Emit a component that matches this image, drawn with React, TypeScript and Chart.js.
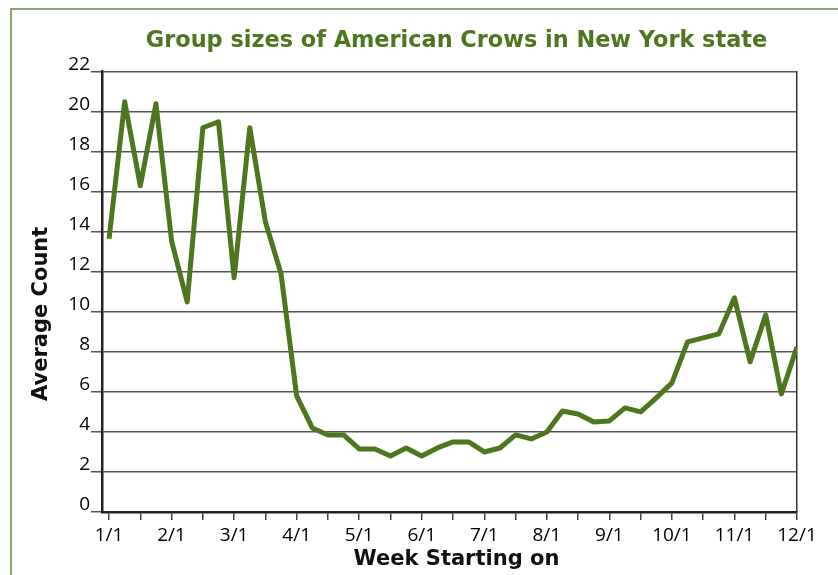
import React, { useEffect, useRef } from "react";
import { Chart, registerables } from "chart.js";

Chart.register(...registerables);

const TITLE = "Group sizes of American Crows in New York state";
const X_TITLE = "Week Starting on";
const Y_TITLE = "Average Count";

// month labels placed every 4 weekly steps
const monthLabels = ["1/1", "2/1", "3/1", "4/1", "5/1", "6/1", "7/1", "8/1", "9/1", "10/1", "11/1", "12/1"];

// average group size per week (45 weekly points, 1/1 .. 12/1)
const avgCount = [
  13.65, 20.5, 16.3, 20.4, 13.55, 10.5, 19.2, 19.5, 11.7, 19.2,
  14.5, 11.9, 5.8, 4.2, 3.85, 3.85, 3.15, 3.15, 2.8, 3.2,
  2.8, 3.2, 3.5, 3.5, 3.0, 3.2, 3.85, 3.65, 4.0, 5.05,
  4.9, 4.5, 4.55, 5.2, 5.0, 5.7, 6.45, 8.5, 8.7, 8.9,
  10.7, 7.5, 9.85, 5.9, 8.25,
];

const yTicks = [0, 2, 4, 6, 8, 10, 12, 14, 16, 18, 20, 22];

const GREEN = "#4d761e";
const FONT = "'Open Sans', 'DejaVu Sans', sans-serif";
const BOLD_FONT = "'DejaVu Sans', 'Open Sans', sans-serif";

export default function App() {
  const ref = useRef<HTMLCanvasElement | null>(null);

  useEffect(() => {
    if (!ref.current) return;
    const weeksPerMonth = (avgCount.length - 1) / (monthLabels.length - 1);

    // axis titles drawn as canvas text, positioned like the original figure
    const axisTitlePlugin = {
      id: "axisTitles",
      afterDraw(chart: any) {
        const { ctx, chartArea } = chart;
        ctx.save();
        ctx.font = `bold 21px ${BOLD_FONT}`;
        ctx.fillStyle = "#111";
        ctx.textAlign = "center";
        ctx.textBaseline = "alphabetic";
        ctx.fillText(X_TITLE, (chartArea.left + chartArea.right) / 2 + 7, chartArea.bottom + 53);
        ctx.translate(42, (chartArea.top + chartArea.bottom) / 2 + 22);
        ctx.rotate(-Math.PI / 2);
        ctx.textBaseline = "middle";
        ctx.fillText(Y_TITLE, 0, 0);
        ctx.restore();
      },
    };

    const chart = new Chart(ref.current, {
      type: "line",
      data: {
        datasets: [
          {
            label: Y_TITLE,
            data: avgCount.map((v, i) => ({ x: i, y: v })),
            borderColor: GREEN,
            borderWidth: 5,
            borderJoinStyle: "round",
            pointRadius: 0,
            tension: 0,
            fill: false,
          },
        ],
      },
      options: {
        animation: false,
        responsive: false,
        layout: { padding: { left: 45, right: 0, top: 0, bottom: 0 } },
        plugins: {
          legend: { display: false },
          tooltip: { enabled: false },
          title: {
            display: true,
            text: TITLE,
            color: GREEN,
            font: { family: BOLD_FONT, size: 22.4, weight: "bold" },
            padding: { top: 28, bottom: 16.8 },
          },
        },
        scales: {
          x: {
            type: "linear",
            min: -0.45,
            max: avgCount.length - 1,
            afterBuildTicks: (s: any) => {
              const t = [];
              for (let v = 0; v <= avgCount.length - 1; v += weeksPerMonth / 2) t.push({ value: v });
              s.ticks = t;
            },
            afterFit: (s: any) => {
              s.height = 63;
            },
            ticks: {
              autoSkip: false,
              maxRotation: 0,
              padding: 4,
              color: "#000",
              font: { family: FONT, size: 19 },
              callback: (v: any) => {
                const k = Number(v) / weeksPerMonth;
                return Number.isInteger(k) ? monthLabels[k] : "";
              },
            },
            grid: {
              display: true,
              drawOnChartArea: false,
              drawTicks: true,
              tickLength: 8,
              color: "#444",
              lineWidth: 1.5,
            },
            border: { display: true, color: "#222", width: 2.5 },
          },
          y: {
            type: "linear",
            min: 0,
            max: 22,
            afterBuildTicks: (s: any) => {
              s.ticks = yTicks.map((v) => ({ value: v }));
            },
            afterFit: (s: any) => {
              s.width = 57;
            },
            ticks: {
              padding: 1,
              labelOffset: -7,
              color: "#000",
              font: { family: FONT, size: 19 },
            },
            grid: {
              color: "#555",
              lineWidth: 1.5,
              drawTicks: true,
              tickLength: 11,
            },
            border: { display: true, color: "#222", width: 2.5 },
          },
          y2: {
            type: "linear",
            position: "right",
            min: 0,
            max: 22,
            afterFit: (s: any) => {
              s.width = 71;
            },
            ticks: { display: false },
            grid: { display: false, drawTicks: false },
            border: { display: true, color: "#333", width: 1.5 },
          },
        },
      },
      plugins: [axisTitlePlugin],
    });
    return () => chart.destroy();
  }, []);

  return (
    <div style={{ position: "fixed", left: 0, top: 0, width: 838, height: 575, overflow: "hidden", background: "#fff" }}>
      <div
        style={{
          position: "absolute",
          left: 10,
          top: 8,
          width: 1000,
          height: 800,
          borderTop: "2px solid #8aa86a",
          borderLeft: "2px solid #8aa86a",
        }}
      />
      <canvas ref={ref} width={868} height={575} style={{ position: "absolute", left: 0, top: 0 }} />
    </div>
  );
}
